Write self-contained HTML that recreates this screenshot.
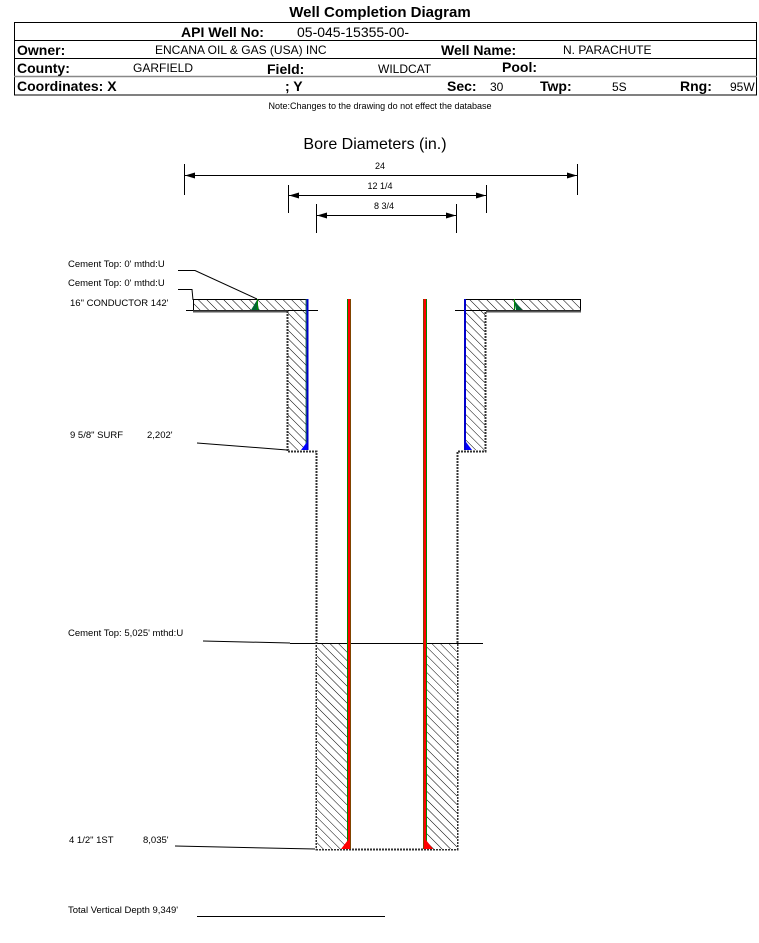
<!DOCTYPE html>
<html><head><meta charset="utf-8"><style>
html,body{margin:0;padding:0;background:#fff;}
svg{display:block;font-family:"Liberation Sans",Arial,sans-serif;}
</style></head><body>
<svg width="759" height="943" viewBox="0 0 759 943" xmlns="http://www.w3.org/2000/svg">
<defs>
<pattern id="h" patternUnits="userSpaceOnUse" width="6" height="6" patternTransform="rotate(-45)">
<rect width="6" height="6" fill="#fff"/><line x1="0" y1="0" x2="0" y2="6" stroke="#000" stroke-width="1"/>
</pattern>
<marker id="a" markerWidth="10" markerHeight="6" refX="10" refY="3" orient="auto-start-reverse" markerUnits="userSpaceOnUse">
<path d="M0,0 L10,3 L0,6 z" fill="#000"/></marker>
</defs>
<!-- header -->
<text x="380" y="17" font-size="15" font-weight="bold" text-anchor="middle">Well Completion Diagram</text>
<rect x="14.5" y="22.5" width="742" height="72.5" fill="none" stroke="#000" stroke-width="1"/>
<line x1="14" y1="40.5" x2="757" y2="40.5" stroke="#000"/>
<line x1="14" y1="58.5" x2="757" y2="58.5" stroke="#000"/>
<line x1="14" y1="76.5" x2="757" y2="76.5" stroke="#888" stroke-width="1.5"/>
<g font-size="14" font-weight="bold">
<text x="181" y="37">API Well No:</text>
<text x="17" y="55">Owner:</text>
<text x="441" y="55">Well Name:</text>
<text x="17" y="73">County:</text>
<text x="267" y="74">Field:</text>
<text x="502" y="72">Pool:</text>
<text x="17" y="91">Coordinates: X</text>
<text x="285" y="91">; Y</text>
<text x="447" y="91">Sec:</text>
<text x="540" y="91">Twp:</text>
<text x="680" y="91">Rng:</text>
</g>
<g font-size="12">
<text x="297" y="37" font-size="14">05-045-15355-00-</text>
<text x="155" y="54">ENCANA OIL &amp; GAS (USA) INC</text>
<text x="563" y="54">N. PARACHUTE</text>
<text x="133" y="72">GARFIELD</text>
<text x="378" y="73">WILDCAT</text>
<text x="490" y="91">30</text>
<text x="612" y="91">5S</text>
<text x="730" y="91">95W</text>
</g>
<text x="380" y="109" font-size="9" text-anchor="middle">Note:Changes to the drawing do not effect the database</text>
<!-- bore dims -->
<text x="375" y="149" font-size="16" text-anchor="middle">Bore Diameters (in.)</text>
<g stroke="#000" stroke-width="1">
<line x1="184.5" y1="164" x2="184.5" y2="195"/><line x1="577.5" y1="164" x2="577.5" y2="195"/>
<line x1="185" y1="175.5" x2="577" y2="175.5" marker-end="url(#a)" marker-start="url(#a)"/>
<line x1="288.5" y1="185" x2="288.5" y2="213"/><line x1="486.5" y1="185" x2="486.5" y2="213"/>
<line x1="289" y1="195.5" x2="486" y2="195.5" marker-end="url(#a)" marker-start="url(#a)"/>
<line x1="316.5" y1="204" x2="316.5" y2="233"/><line x1="456.5" y1="204" x2="456.5" y2="233"/>
<line x1="317" y1="215.5" x2="456" y2="215.5" marker-end="url(#a)" marker-start="url(#a)"/>
</g>
<g font-size="9" text-anchor="middle"><text x="380" y="169">24</text><text x="380" y="189">12 1/4</text><text x="384" y="209">8 3/4</text></g>
<!-- labels -->
<g font-size="9.5">
<text x="68" y="267">Cement Top: 0' mthd:U</text>
<text x="68" y="286">Cement Top: 0' mthd:U</text>
<text x="70" y="306">16" CONDUCTOR  142'</text>
<text x="70" y="438">9 5/8" SURF</text><text x="147" y="438">2,202'</text>
<text x="68" y="636">Cement Top: 5,025' mthd:U</text>
<text x="69" y="843">4 1/2" 1ST</text><text x="143" y="843">8,035'</text>
<text x="68" y="913">Total Vertical Depth 9,349'</text>
</g>
<g stroke="#000" stroke-width="1" fill="none">
<polyline points="178,270.5 195,270.5 257,299"/>
<polyline points="178,289.5 192,289.5 193,300"/>
<line x1="186" y1="310.5" x2="193" y2="310.5"/>
<line x1="197" y1="443" x2="287" y2="450"/>
<line x1="203" y1="641" x2="290" y2="643"/>
<line x1="175" y1="846" x2="315" y2="849"/>
<line x1="197" y1="916.5" x2="385" y2="916.5"/>
<line x1="290" y1="643.5" x2="483" y2="643.5"/>
<line x1="307" y1="310.5" x2="318" y2="310.5"/>
<line x1="455" y1="310.5" x2="465" y2="310.5"/>
</g>
<!-- conductor -->
<rect x="193.5" y="299.5" width="114" height="11" fill="url(#h)" stroke="#000"/>
<rect x="465.5" y="299.5" width="115" height="11" fill="url(#h)" stroke="#000"/>
<line x1="193" y1="311.5" x2="288" y2="311.5" stroke="#555" stroke-width="2"/>
<line x1="486" y1="311.5" x2="581" y2="311.5" stroke="#555" stroke-width="2"/>
<path d="M251,310 L257,300 L259,310 z" fill="#063"/><path d="M514,300 L516,310 L522,310 z" fill="#063"/>
<line x1="257.5" y1="299" x2="257.5" y2="310" stroke="#080"/>
<line x1="514.5" y1="299" x2="514.5" y2="310" stroke="#080"/>
<!-- surface annulus -->
<rect x="288" y="311" width="19" height="139" fill="url(#h)"/>
<rect x="466" y="311" width="19" height="139" fill="url(#h)"/>
<path d="M287.5,311 V451.5 H316.5 V849.5 H457.5 V451.5 H485.5 V311" fill="none" stroke="#333" stroke-width="2" stroke-dasharray="2,1"/>
<line x1="307.5" y1="299" x2="307.5" y2="450" stroke="#00c" stroke-width="2"/>
<line x1="465" y1="299" x2="465" y2="450" stroke="#00c" stroke-width="2"/>
<line x1="306" y1="299" x2="306" y2="450" stroke="#063" stroke-width="0.8"/>
<path d="M301,450 L307,442 L307,450 z" fill="#00f"/><path d="M466,442 L466,450 L472,450 z" fill="#00f"/>
<!-- production annulus -->
<rect x="317" y="644" width="30" height="205" fill="url(#h)"/>
<rect x="427" y="644" width="30" height="205" fill="url(#h)"/>
<rect x="347" y="299" width="4" height="550" fill="#080"/><rect x="348" y="299" width="2.5" height="550" fill="#f00"/>
<rect x="423" y="299" width="4" height="550" fill="#080"/><rect x="423.5" y="299" width="2.5" height="550" fill="#f00"/>
<path d="M341,849 L348,840 L348,849 z" fill="#f00"/><path d="M426,840 L426,849 L433,849 z" fill="#f00"/>
</svg>
</body></html>
